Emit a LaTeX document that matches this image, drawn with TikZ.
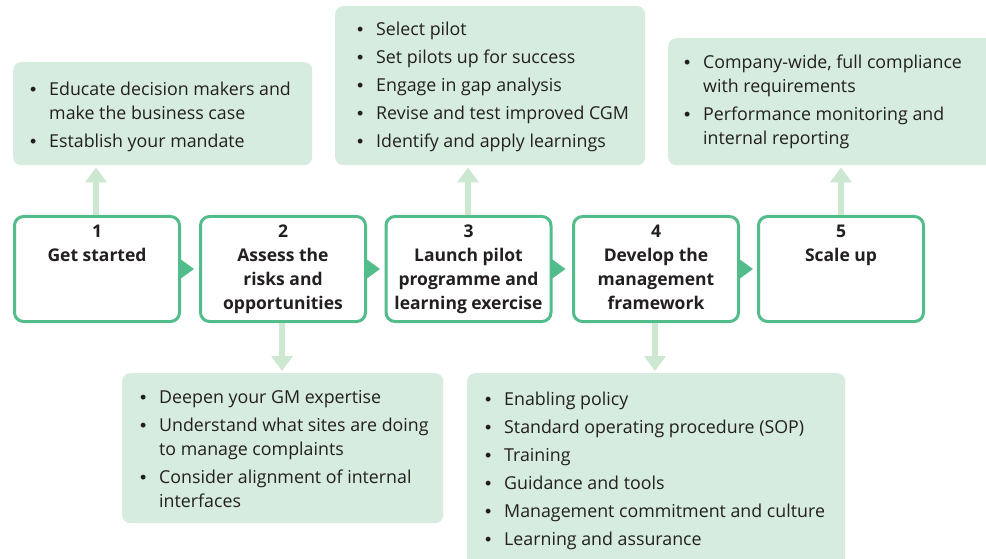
\documentclass[tikz,border=0pt]{standalone}
\usepackage{fontspec}
\setmainfont{Open Sans}
\newfontfamily\dotfont{Liberation Sans}
\usetikzlibrary{arrows.meta,calc}
\definecolor{stepgreen}{RGB}{82,189,139}
\definecolor{panelgreen}{RGB}{214,236,222}
\definecolor{linkgreen}{RGB}{204,232,208}
\definecolor{inkgray}{RGB}{35,31,32}
\newcommand{\bul}{\makebox[32pt][c]{\dotfont •}}
\begin{document}
\begin{tikzpicture}[x=1pt,y=-1pt,
  stepbox/.style={draw=stepgreen, line width=3pt, fill=white, rounded corners=9pt,
    minimum width=165pt, minimum height=105pt, inner sep=0pt},
  steptext/.style={anchor=north, inner sep=0pt, align=center, text=inkgray,
    font=\fontsize{17.5}{24}\selectfont\bfseries},
  panel/.style={fill=panelgreen, rounded corners=8pt, anchor=north west, inner sep=0pt},
  paneltext/.style={anchor=north west, inner sep=0pt, text=inkgray,
    font=\fontsize{17.8}{24}\selectfont},
  link/.style={draw=linkgreen, line width=6pt, -{Triangle[width=21pt,length=15pt]}, shorten >=2pt},
  pointer/.style={fill=stepgreen}
]
\useasboundingbox (0,0) rectangle (986,559);
\clip (0,0) rectangle (986,559);

% panels of actions
\node[panel, minimum width=299pt, minimum height=103pt] (pA) at (13,62) {};
\node[panel, minimum width=310pt, minimum height=159pt] (pB) at (335,6) {};
\node[panel, minimum width=330pt, minimum height=127pt] (pC) at (668,38) {};
\node[panel, minimum width=321pt, minimum height=150pt] (pD) at (122,373) {};
\node[panel, minimum width=378pt, minimum height=200pt] (pE) at (467,373) {};

\node[paneltext] (tA) at (17,78.2) {\begin{tabular}{@{}l@{}l@{}}
\bul & Educate decision makers and\\
     & make the business case\\[4pt]
\bul & Establish your mandate
\end{tabular}};
\node[paneltext] (tB) at (344,18.2) {\begin{tabular}{@{}l@{}l@{}}
\bul & Select pilot\\[4pt]
\bul & Set pilots up for success\\[4pt]
\bul & Engage in gap analysis\\[4pt]
\bul & Revise and test improved CGM\\[4pt]
\bul & Identify and apply learnings
\end{tabular}};
\node[paneltext] (tC) at (671,51.2) {\begin{tabular}{@{}l@{}l@{}}
\bul & Company-wide, full compliance\\
     & with requirements\\[4pt]
\bul & Performance monitoring and\\
     & internal reporting
\end{tabular}};
\node[paneltext] (tD) at (127,386.2) {\begin{tabular}{@{}l@{}l@{}}
\bul & Deepen your GM expertise\\[4pt]
\bul & Understand what sites are doing\\
     & to manage complaints\\[4pt]
\bul & Consider alignment of internal\\
     & interfaces
\end{tabular}};
\node[paneltext] (tE) at (472,388.2) {\begin{tabular}{@{}l@{}l@{}}
\bul & Enabling policy\\[4pt]
\bul & Standard operating procedure (SOP)\\[4pt]
\bul & Training\\[4pt]
\bul & Guidance and tools\\[4pt]
\bul & Management commitment and culture\\[4pt]
\bul & Learning and assurance
\end{tabular}};

% columns of the links from steps to panels
\coordinate (c1) at (96,0);
\coordinate (c2) at (282,0);
\coordinate (c3) at (468,0);
\coordinate (c4) at (655,0);
\coordinate (c5) at (841,0);

% step boxes
\node[stepbox] (s1) at (97,269) {};
\node[stepbox] (s2) at (283,269) {};
\node[stepbox] (s3) at (468.5,269) {};
\node[stepbox] (s4) at (656,269) {};
\node[stepbox] (s5) at (841,269) {};

\draw[link] (c1 |- s1.north) -- (c1 |- pA.south);
\draw[link] (c2 |- s2.south) -- (c2 |- pD.north);
\draw[link] (c3 |- s3.north) -- (c3 |- pB.south);
\draw[link] (c4 |- s4.south) -- (c4 |- pE.north);
\draw[link] (c5 |- s5.north) -- (c5 |- pC.south);

\node[steptext] (n1) at (97,220.2) {\strut 1\\Get started};
\node[steptext] (n2) at (283,220.2) {\strut 2\\Assess the\\risks and\\opportunities};
\node[steptext] (n3) at (468.5,220.2) {\strut 3\\Launch pilot\\programme and\\learning exercise};
\node[steptext] (n4) at (656,220.2) {\strut 4\\Develop the\\management\\framework};
\node[steptext] (n5) at (841,220.2) {\strut 5\\Scale up};

% pointers between consecutive steps
\foreach \a in {s1,s2,s3,s4}{
  \fill[pointer] ($(\a.east)+(-1.5,-10.5)$) -- ($(\a.east)+(13,0)$) -- ($(\a.east)+(-1.5,10.5)$) -- cycle;
}
\end{tikzpicture}
\end{document}
